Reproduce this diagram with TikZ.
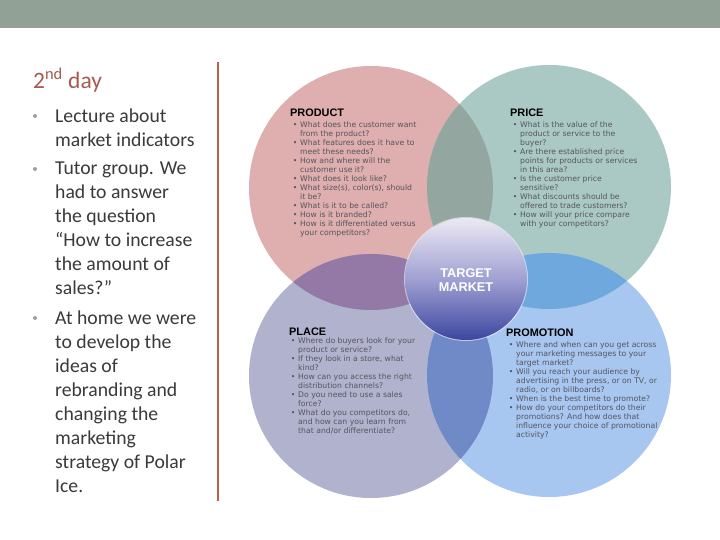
\documentclass[tikz,border=0pt]{standalone}
\usepackage{fontspec}
\setmainfont{Carlito}
\newfontfamily\smallfont{DejaVu Sans}
\newfontfamily\headfont{Liberation Sans}
\definecolor{headerc}{HTML}{92A195}
\definecolor{rulec}{HTML}{BC5F45}
\definecolor{titlec}{HTML}{A85A50}
\definecolor{bodyc}{HTML}{3A3A3A}
\definecolor{dotc}{HTML}{9AA3A0}
\definecolor{prodc}{HTML}{DFAEAE}
\definecolor{pricec}{HTML}{ABC9C4}
\definecolor{placec}{HTML}{B1B2CE}
\definecolor{promoc}{HTML}{A7C6F0}
\definecolor{lensA}{HTML}{93A69F}
\definecolor{lensB}{HTML}{9479A6}
\definecolor{lensC}{HTML}{6FA8DC}
\definecolor{lensD}{HTML}{708AC8}
\definecolor{smallc}{HTML}{55555E}
\newcommand{\bl}{\leavevmode\llap{\textbullet\hspace{2.8pt}}}
\newcommand{\fl}{\rule{0pt}{7pt}}
\tikzset{
  body/.style={anchor=north west,inner sep=0pt,align=left,text=bodyc,font=\fontsize{19.7}{24}\selectfont},
  dotm/.style={circle,fill=dotc,inner sep=0pt,minimum size=4pt},
  ctitle/.style={anchor=base west,inner sep=0pt,font=\headfont\bfseries\fontsize{10.9}{11}\selectfont,text=black},
  clist/.style={anchor=north west,inner sep=0pt,align=left,text=smallc,font=\smallfont\fontsize{7.7}{9.05}\selectfont},
}
\begin{document}
\begin{tikzpicture}[x=1pt,y=-1pt]
\useasboundingbox (0,0) rectangle (720,540);
\fill[white] (0,0) rectangle (720,540);
\fill[headerc] (0,0) rectangle (720,28);
\draw[rulec,line width=2pt] (218,62) -- (218,501);
% circles
\fill[prodc] (371,188) circle[radius=122];
\fill[pricec] (549,187) circle[radius=122];
\fill[placec] (371,376) circle[radius=122];
\fill[promoc] (549,375) circle[radius=122];
\begin{scope}
  \clip (371,188) circle[radius=122];
  \fill[lensA] (549,187) circle[radius=122];
\end{scope}
\begin{scope}
  \clip (371,188) circle[radius=122];
  \fill[lensB] (371,376) circle[radius=122];
\end{scope}
\begin{scope}
  \clip (549,187) circle[radius=122];
  \fill[lensC] (549,375) circle[radius=122];
\end{scope}
\begin{scope}
  \clip (371,376) circle[radius=122];
  \fill[lensD] (549,375) circle[radius=122];
\end{scope}
\fill[white,opacity=0.55] (466,279) circle[radius=62];
\shade[shading=axis,shading angle=0,
  top color={rgb,255:red,236;green,233;blue,244},
  bottom color={rgb,255:red,60;green,70;blue,160},
  middle color={rgb,255:red,160;green,160;blue,210}] (466,279) circle[radius=61];
\node[inner sep=0pt,align=center,text=white,font=\headfont\bfseries\fontsize{12.7}{13.5}\selectfont] (target) at (466,280) {TARGET\\MARKET};
% left column
\node[anchor=base west,inner sep=0pt,text=titlec,font=\fontsize{23.5}{25}\selectfont] (title) at (33,89) {2\textsuperscript{nd} day};
\node[dotm] (d1) at (35,116) {};
\node[body] (t1) at (55,109) {Lecture about\\market indicators};
\node[dotm] (d2) at (35,169) {};
\node[body] (t2) at (55,162) {Tutor group. We\\had to answer\\the question\\“How to increase\\the amount of\\sales?”};
\node[dotm] (d3) at (35,318) {};
\node[body] (t3) at (55,311) {At home we were\\to develop the\\ideas of\\rebranding and\\changing the\\marketing\\strategy of Polar\\Ice.};
% circle lists
\node[ctitle] (prodh) at (290,117) {PRODUCT};
\node[clist] (prodl) at (300,120) {\fl\bl What does the customer want\\from the product?\\\bl What features does it have to\\meet these needs?\\\bl How and where will the\\customer use it?\\\bl What does it look like?\\\bl What size(s), color(s), should\\it be?\\\bl What is it to be called?\\\bl How is it branded?\\\bl How is it differentiated versus\\your competitors?};
\node[ctitle] (priceh) at (510,117) {PRICE};
\node[clist] (pricel) at (520,120) {\fl\bl What is the value of the\\product or service to the\\buyer?\\\bl Are there established price\\points for products or services\\in this area?\\\bl Is the customer price\\sensitive?\\\bl What discounts should be\\offered to trade customers?\\\bl How will your price compare\\with your competitors?};
\node[ctitle] (placeh) at (289,335) {PLACE};
\node[clist] (placel) at (298,336) {\fl\bl Where do buyers look for your\\product or service?\\\bl If they look in a store, what\\kind?\\\bl How can you access the right\\distribution channels?\\\bl Do you need to use a sales\\force?\\\bl What do you competitors do,\\and how can you learn from\\that and/or differentiate?};
\node[ctitle] (promoh) at (506,336) {PROMOTION};
\node[clist] (promol) at (516,340) {\fl\bl Where and when can you get across\\your marketing messages to your\\target market?\\\bl Will you reach your audience by\\advertising in the press, or on TV, or\\radio, or on billboards?\\\bl When is the best time to promote?\\\bl How do your competitors do their\\promotions? And how does that\\influence your choice of promotional\\activity?};
\end{tikzpicture}
\end{document}
